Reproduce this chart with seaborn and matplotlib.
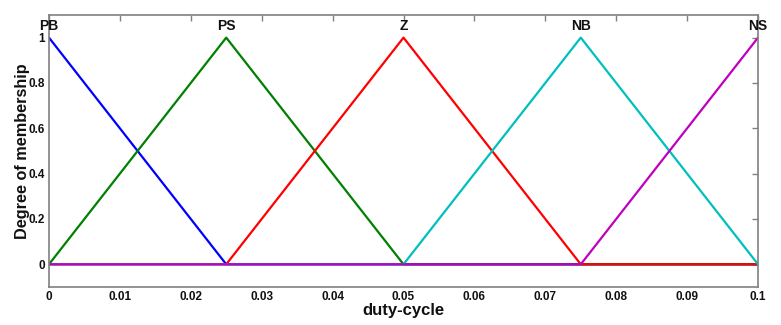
import matplotlib
matplotlib.use("Agg")
import matplotlib.pyplot as plt
import seaborn as sns
import pandas as pd

# membership breakpoints (triangular MFs)
duty = [0.0, 0.025, 0.05, 0.075, 0.1]
mf_names = ["PB", "PS", "Z", "NB", "NS"]
mf_values = {
    "PB": [1, 0, 0, 0, 0],
    "PS": [0, 1, 0, 0, 0],
    "Z": [0, 0, 1, 0, 0],
    "NB": [0, 0, 0, 1, 0],
    "NS": [0, 0, 0, 0, 1],
}
mf_peaks = [0.0, 0.025, 0.05, 0.075, 0.1]
mf_colors = ["#0000ff", "#008000", "#ff0000", "#00bfbf", "#bf00bf"]

xticks = [0, 0.01, 0.02, 0.03, 0.04, 0.05, 0.06, 0.07, 0.08, 0.09, 0.1]
xtick_labels = ["0", "0.01", "0.02", "0.03", "0.04", "0.05", "0.06", "0.07", "0.08", "0.09", "0.1"]
yticks = [0, 0.2, 0.4, 0.6, 0.8, 1]
ytick_labels = ["0", "0.2", "0.4", "0.6", "0.8", "1"]

sns.set_style("white")
plt.rcParams["font.family"] = ["Liberation Sans", "DejaVu Sans"]
plt.rcParams["font.weight"] = "bold"

fig = plt.figure(figsize=(7.81, 3.25), dpi=100)
ax = fig.add_axes([0.0627, 0.117, 0.9079, 0.837])

for name, color in zip(mf_names, mf_colors):
    df = pd.DataFrame({"x": duty, "y": mf_values[name]})
    sns.lineplot(data=df, x="x", y="y", color=color, linewidth=1.6, ax=ax)

for name, peak in zip(mf_names, mf_peaks):
    ax.text(peak, 1.05, name, ha="center", va="center", fontsize=10,
            fontweight="bold", color="#111111")

ax.set_xlim(0, 0.1)
ax.set_ylim(-0.1, 1.1)
ax.set_xticks(xticks)
ax.set_xticklabels(xtick_labels)
ax.set_yticks(yticks)
ax.set_yticklabels(ytick_labels)
ax.tick_params(direction="in", length=4, width=1, colors="#808080", labelcolor="#111111",
               labelsize=8.5, top=True, right=True, pad=3)
for lbl in ax.get_xticklabels() + ax.get_yticklabels():
    lbl.set_fontweight("bold")
for sp in ax.spines.values():
    sp.set_color("#808080")
    sp.set_linewidth(1.2)

ax.set_xlabel("duty-cycle", fontsize=12, fontweight="bold", labelpad=0, color="#111111")
ax.set_ylabel("Degree of membership", fontsize=11.7, fontweight="bold", labelpad=-1,
              color="#111111")

fig.savefig("out.png", dpi=100)
